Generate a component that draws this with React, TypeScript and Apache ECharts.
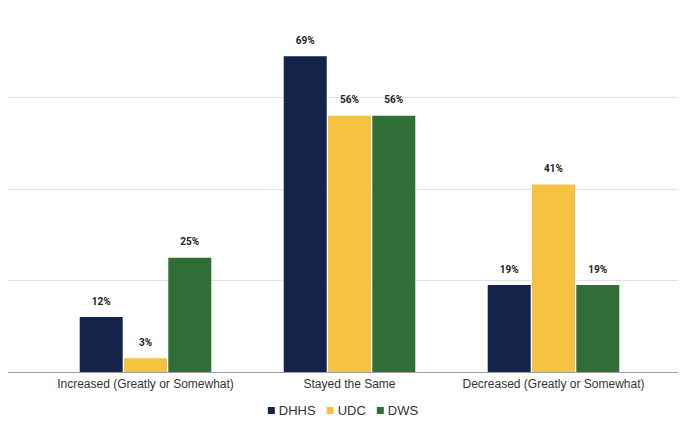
import React, { useEffect, useRef } from "react";
import * as echarts from "echarts";

const categories = [
  "Increased (Greatly or Somewhat)",
  "Stayed the Same",
  "Decreased (Greatly or Somewhat)",
];
const seriesNames = ["DHHS", "UDC", "DWS"];
const dhhs = [12, 69, 19];
const udc = [3, 56, 41];
const dws = [25, 56, 19];
const colors = ["#13234a", "#f5c242", "#2f6e37"];

export default function App() {
  const ref = useRef<HTMLDivElement>(null);

  useEffect(() => {
    if (!ref.current) return;
    const chart = echarts.init(ref.current, null, { renderer: "svg" });
    const values = [dhhs, udc, dws];
    chart.setOption({
      animation: false,
      color: colors,
      legend: {
        data: seriesNames,
        bottom: 18,
        left: "center",
        icon: "rect",
        itemWidth: 7,
        itemHeight: 7,
        itemGap: 11,
        textStyle: {
          fontFamily: "Liberation Sans, Arial, sans-serif",
          fontSize: 13,
          color: "#333",
          padding: [0, 0, 0, -1],
        },
      },
      grid: [
        { left: 8, right: 0, top: 6, bottom: 68, containLabel: false },
        { left: 43.5, width: 612, top: 6, bottom: 68, containLabel: false },
      ],
      xAxis: [
        {
          type: "category",
          gridIndex: 0,
          data: [""],
          axisLine: { show: true, lineStyle: { color: "#9e9e9e", width: 1 } },
          axisTick: { show: false },
          axisLabel: { show: false },
        },
        {
          type: "category",
          gridIndex: 1,
          data: categories,
          axisLine: { show: false },
          axisTick: { show: false },
          axisLabel: {
            interval: 0,
            fontFamily: "Liberation Sans, Arial, sans-serif",
            fontSize: 12,
            color: "#333",
            margin: 6,
          },
        },
      ],
      yAxis: [
        {
          type: "value",
          gridIndex: 0,
          min: 0,
          max: 80,
          interval: 20,
          axisLabel: { show: false },
          axisLine: { show: false },
          axisTick: { show: false },
          splitLine: { lineStyle: { color: "#e2e2e2", width: 1 } },
        },
        {
          type: "value",
          gridIndex: 1,
          min: 0,
          max: 80,
          interval: 20,
          axisLabel: { show: false },
          axisLine: { show: false },
          axisTick: { show: false },
          splitLine: { show: false },
        },
      ],
      series: seriesNames.map((name, i) => ({
        name,
        type: "bar",
        xAxisIndex: 1,
        yAxisIndex: 1,
        data: values[i],
        barWidth: 43,
        barGap: "3%",
        itemStyle: { color: colors[i] },
        label: {
          show: true,
          position: "top",
          distance: 11,
          formatter: "{c}%",
          fontFamily: "Roboto, sans-serif",
          fontWeight: "bold",
          fontSize: 10,
          color: "#222",
        },
      })),
    });
    return () => chart.dispose();
  }, []);

  return <div ref={ref} style={{ width: 686, height: 440, margin: -8 }} />;
}
